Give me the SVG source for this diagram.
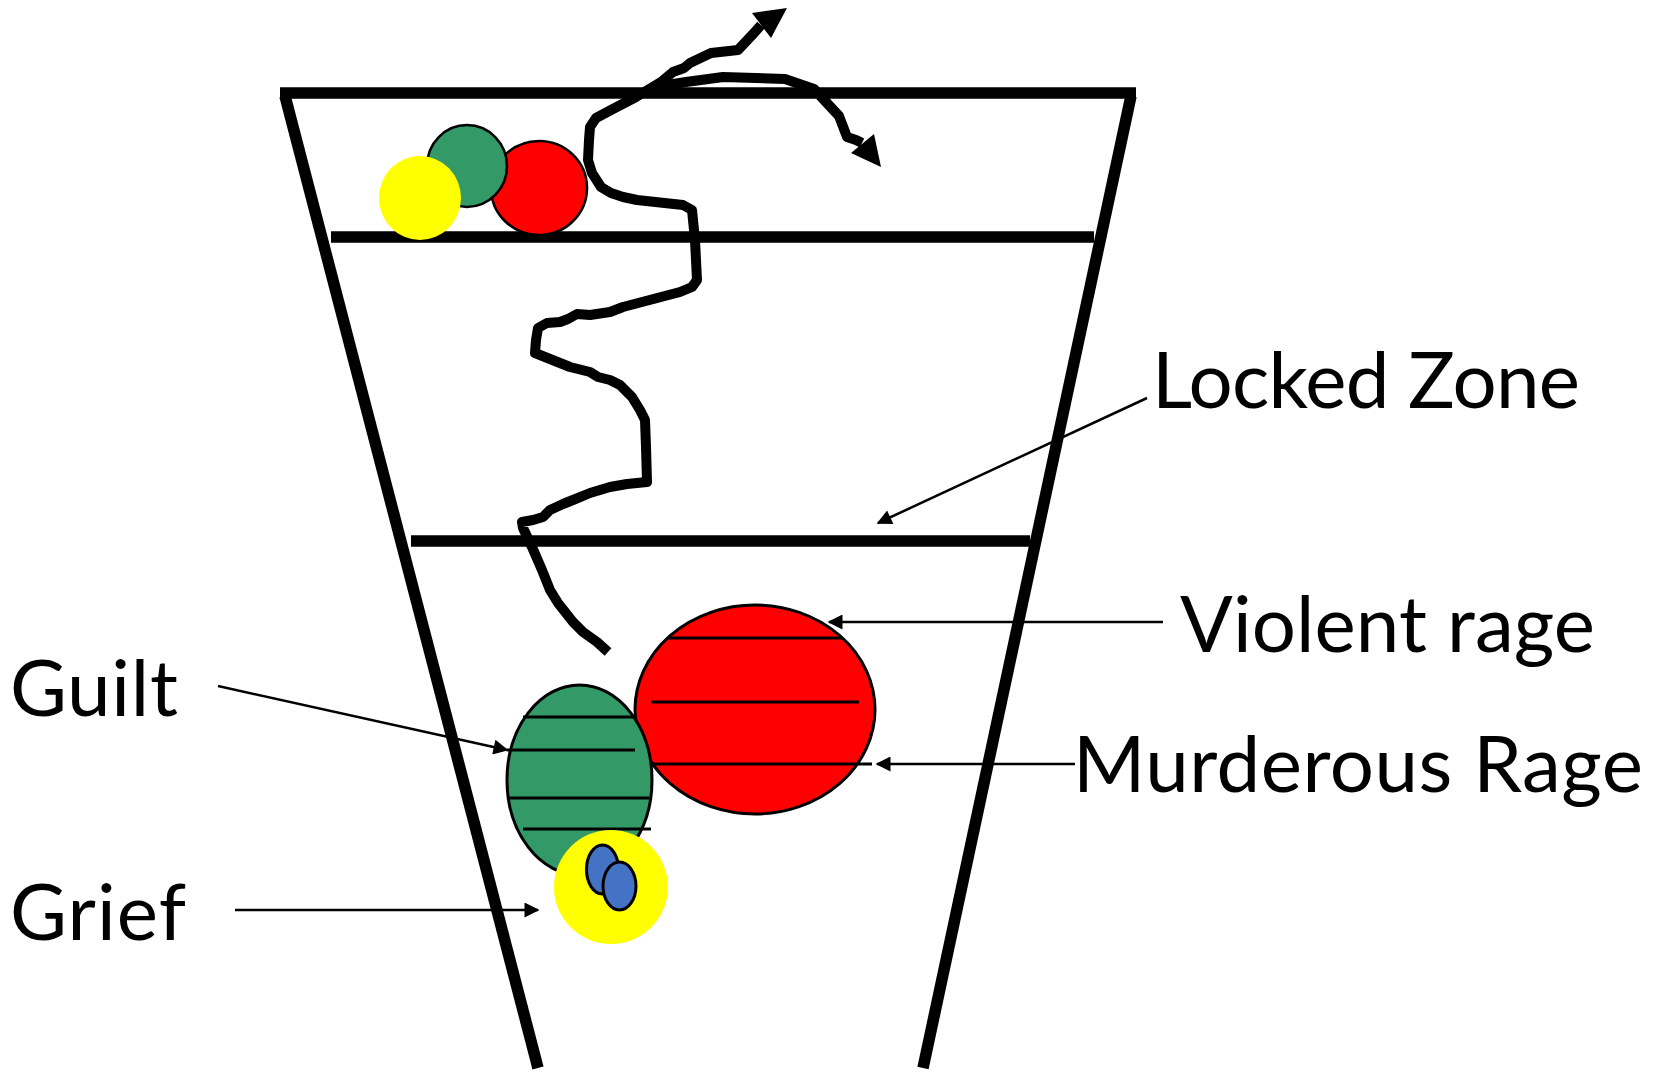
<svg xmlns="http://www.w3.org/2000/svg" width="1665" height="1073" viewBox="0 0 1665 1073">
<defs>
<style>
.bar{stroke:#000;stroke-width:11.5;fill:none;stroke-linecap:butt}
.hatch{stroke:#000;stroke-width:3;fill:none}
.outline{stroke:#000;stroke-width:3}
.thin{stroke:#000;stroke-width:2.5}
.snake{stroke:#000;stroke-width:10;fill:none;stroke-linejoin:round;stroke-linecap:butt}
.label{font-family:Lato,"Liberation Sans",sans-serif;font-size:78px;fill:#000}
.arrow{stroke:#000;stroke-width:2.5;fill:none;marker-end:url(#ah)}
</style>
<marker id="ah" viewBox="0 0 10 10" refX="9" refY="5" markerWidth="6.5" markerHeight="6" orient="auto" markerUnits="strokeWidth">
<path d="M0,0 L10,5 L0,10 z" fill="#000"/>
</marker>
</defs>
<rect width="1665" height="1073" fill="#fff"/>

<g id="funnel">
<line class="bar" x1="280" y1="93" x2="1136" y2="93"/>
<line class="bar" x1="285" y1="96" x2="538" y2="1068"/>
<line class="bar" x1="1131" y1="96" x2="923" y2="1068"/>
<line class="bar" x1="331" y1="237" x2="1094" y2="237"/>
<line class="bar" x1="411" y1="541" x2="1030" y2="541"/>
</g>

<g id="top-balls">
<ellipse cx="539" cy="188" rx="48" ry="47" fill="#ff0000" class="thin"/>
<ellipse cx="467" cy="166" rx="40" ry="41" fill="#339966" class="thin"/>
<ellipse cx="420" cy="198" rx="41" ry="42" fill="#ffff00"/>
</g>

<g id="violent-rage">
<ellipse cx="755" cy="709.5" rx="120" ry="104.5" fill="#ff0000" class="outline"/>
<line class="hatch" x1="668" y1="638" x2="842" y2="638"/>
<line class="hatch" x1="651" y1="702" x2="859" y2="702"/>
<line class="hatch" x1="650" y1="764" x2="872" y2="764"/>
</g>

<g id="guilt">
<ellipse cx="579.5" cy="780" rx="72.5" ry="95" fill="#339966" class="outline"/>
<line class="hatch" x1="523" y1="717" x2="633" y2="717"/>
<line class="hatch" x1="507" y1="750" x2="635" y2="750"/>
<line class="hatch" x1="508" y1="798" x2="649" y2="798"/>
<line class="hatch" x1="523" y1="829" x2="651" y2="829"/>
</g>

<g id="grief">
<circle cx="611" cy="887" r="57" fill="#ffff00"/>
<ellipse cx="602.5" cy="869.5" rx="16" ry="24.5" fill="#4472c4" class="outline"/>
<ellipse cx="619.5" cy="886" rx="16.5" ry="24" fill="#4472c4" class="outline"/>
</g>

<g id="connectors">
<path class="snake" d="M608,652 L597,642 L583,632 L573,622 L558,603 L550,590 L542,570 L532,547 L523,528 L522,522 L533,520 L543,517 L550,510 L563,504 L573,500 L590,493 L610,487 L627,484 L647,482 L646,447 L645,420 L640,410 L632,397 L620,385 L610,380 L598,377 L590,372 L570,367 L535,353 L536,340 L538,328 L547,323 L560,322 L568,319 L577,314 L590,315 L610,312 L623,307 L680,292 L692,287 L697,280 L695,240 L692,210 L683,205 L637,200 L623,197 L611,193 L601,187 L592,173 L588,160 L589,140 L590,127 L596,118 L611,110 L636,97 L661,82 L673,72 L684,68 L690,63 L711,53 L738,50 L754,33 L761,25"/>
<path d="M787,8 L752,13 L771,38 z" fill="#000"/>
<path class="snake" d="M661,86 L686,82 L723,77 L785,79 L814,89 L839,116 L847,137 L856,140 L862,143"/>
<path d="M881,167 L851,153 L874,134 z" fill="#000"/>
<line class="arrow" x1="1147" y1="398" x2="878" y2="523"/>
<line class="arrow" x1="1163" y1="622" x2="829" y2="622"/>
<line class="arrow" x1="1075" y1="764" x2="877" y2="764"/>
<line class="arrow" x1="218" y1="686" x2="507" y2="750"/>
<line class="arrow" x1="235" y1="910" x2="538" y2="910"/>
</g>

<g id="labels">
<text class="label" x="1152" y="408" textLength="428">Locked Zone</text>
<text class="label" x="1180" y="652" textLength="415">Violent rage</text>
<text class="label" x="1073" y="792" textLength="570">Murderous Rage</text>
<text class="label" x="10" y="716" textLength="168">Guilt</text>
<text class="label" x="10" y="940" textLength="176">Grief</text>
</g>
</svg>
